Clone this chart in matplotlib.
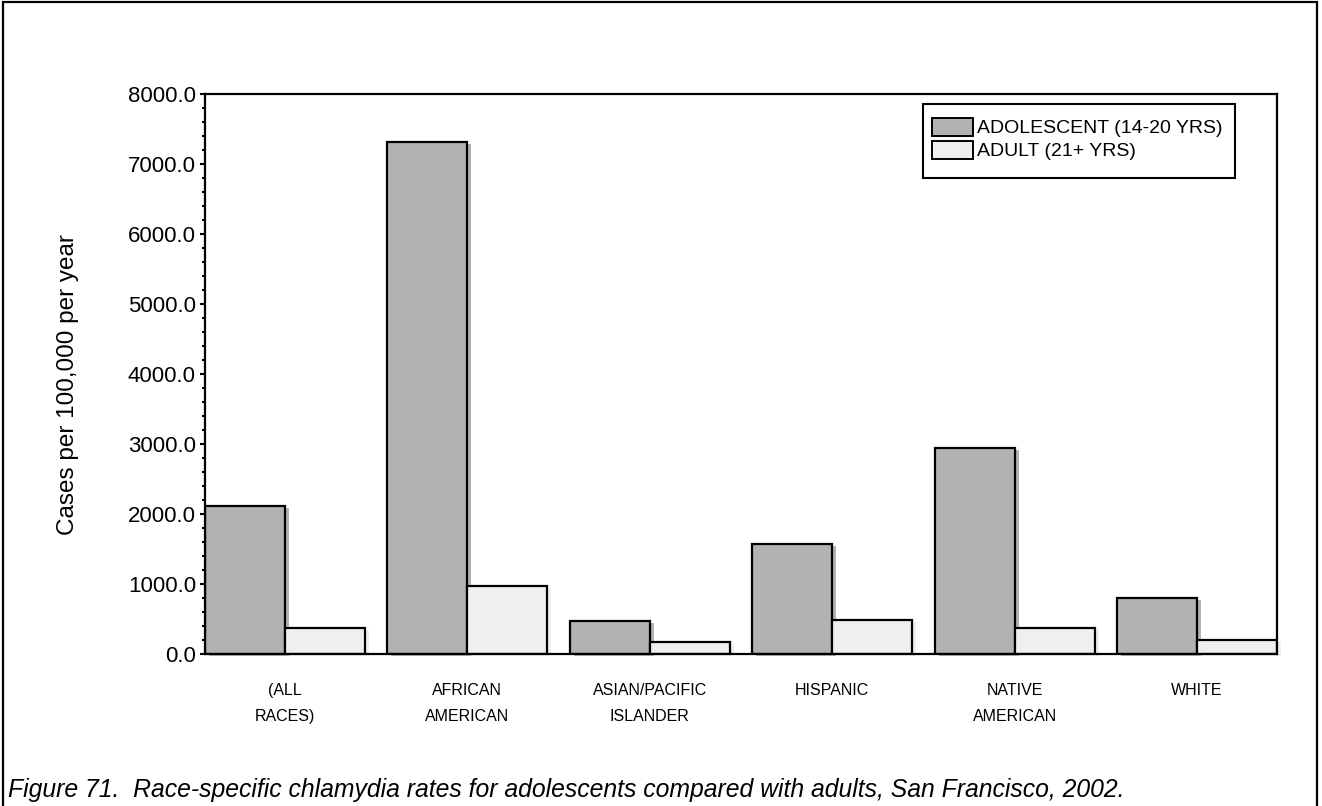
import matplotlib
matplotlib.use("Agg")
import matplotlib.pyplot as plt
from matplotlib.patches import Rectangle, Patch
from matplotlib.ticker import MultipleLocator, FormatStrFormatter
import numpy as np

plt.rcParams['font.family'] = ['Liberation Sans', 'DejaVu Sans']

categories = ["(ALL\nRACES)", "AFRICAN\nAMERICAN", "ASIAN/PACIFIC\nISLANDER",
              "HISPANIC", "NATIVE\nAMERICAN", "WHITE"]
adolescent = [2115, 7320, 460, 1570, 2945, 795]
adult = [370, 970, 165, 480, 360, 195]
series_labels = ["ADOLESCENT (14-20 YRS)", "ADULT (21+ YRS)"]
colors = ["#b2b2b2", "#efefef"]

W, H = 1322, 806
fig = plt.figure(figsize=(W / 100, H / 100), dpi=100)
ax_left, ax_right, ax_top, ax_bottom = 205, 1277, 94, 653.5
ax = fig.add_axes([ax_left / W, 1 - ax_bottom / H,
                   (ax_right - ax_left) / W, (ax_bottom - ax_top) / H])

bar_w = 0.4386
x = np.arange(len(categories))
ax.set_xlim(0, len(categories) - 1 + 2 * bar_w)
ax.set_ylim(0, 8000)

# drop-shadow offsets (about 4 px right, 2 px down)
px_x = (len(categories) - 1 + 2 * bar_w) / (ax_right - ax_left)
px_y = 8000 / (ax_bottom - ax_top)
dx, dy = 4 * px_x, 2 * px_y

for vals, off, col in [(adolescent, 0, colors[0]), (adult, bar_w, colors[1])]:
    vals = np.array(vals, dtype=float)
    ax.bar(x + off + dx, vals, width=bar_w, bottom=-dy, align='edge',
           color=col, edgecolor='none', zorder=1, clip_on=False)
    ax.bar(x + off, vals, width=bar_w, align='edge', color=col,
           edgecolor='black', linewidth=1.6, zorder=2)

for s in ax.spines.values():
    s.set_linewidth(1.6)
    s.set_zorder(3)

ax.yaxis.set_major_locator(MultipleLocator(1000))
ax.yaxis.set_minor_locator(MultipleLocator(200))
ax.yaxis.set_major_formatter(FormatStrFormatter('%.1f'))
ax.tick_params(axis='y', which='major', length=3.5, width=1.5, pad=3,
               labelsize=16, direction='out')
ax.tick_params(axis='y', which='minor', length=2.5, width=1.5, direction='out')

ax.set_xticks(x + bar_w)
ax.set_xticklabels(categories, fontsize=11.5, linespacing=1.95)
ax.tick_params(axis='x', length=0, pad=21)

fig.text(68 / W, 1 - 385 / H, "Cases per 100,000 per year", rotation=90,
         ha='center', va='center', fontsize=17.5)

# legend entries without their own frame; the box is drawn separately
handles = [Patch(facecolor=c, edgecolor='black', linewidth=1.4) for c in colors]
leg = ax.legend(handles, series_labels, loc='upper left',
                bbox_to_anchor=(932 / W, 1 - 117.5 / H),
                bbox_transform=fig.transFigure, fontsize=14, frameon=False,
                borderpad=0, borderaxespad=0, handlelength=2.1,
                handleheight=1.08, handletextpad=0.2, labelspacing=0.17)
leg.set_zorder(6)
ax.add_patch(Rectangle((923 / W, 1 - 178 / H), (1235 - 923) / W,
                       (178 - 104) / H, transform=fig.transFigure,
                       facecolor='white', edgecolor='black',
                       linewidth=1.5, zorder=5, clip_on=False))

fig.text(8 / W, 1 - 797 / H,
         "Figure 71.  Race-specific chlamydia rates for adolescents compared with adults, San Francisco, 2002.",
         fontsize=17.85, style='italic', ha='left', va='baseline')

fig.patches.append(Rectangle((3 / W, -0.02), (1317 - 3) / W, 1.02 - 2 / H,
                             transform=fig.transFigure, fill=False,
                             edgecolor='black', linewidth=1.6))

fig.savefig("out.png", dpi=100)
